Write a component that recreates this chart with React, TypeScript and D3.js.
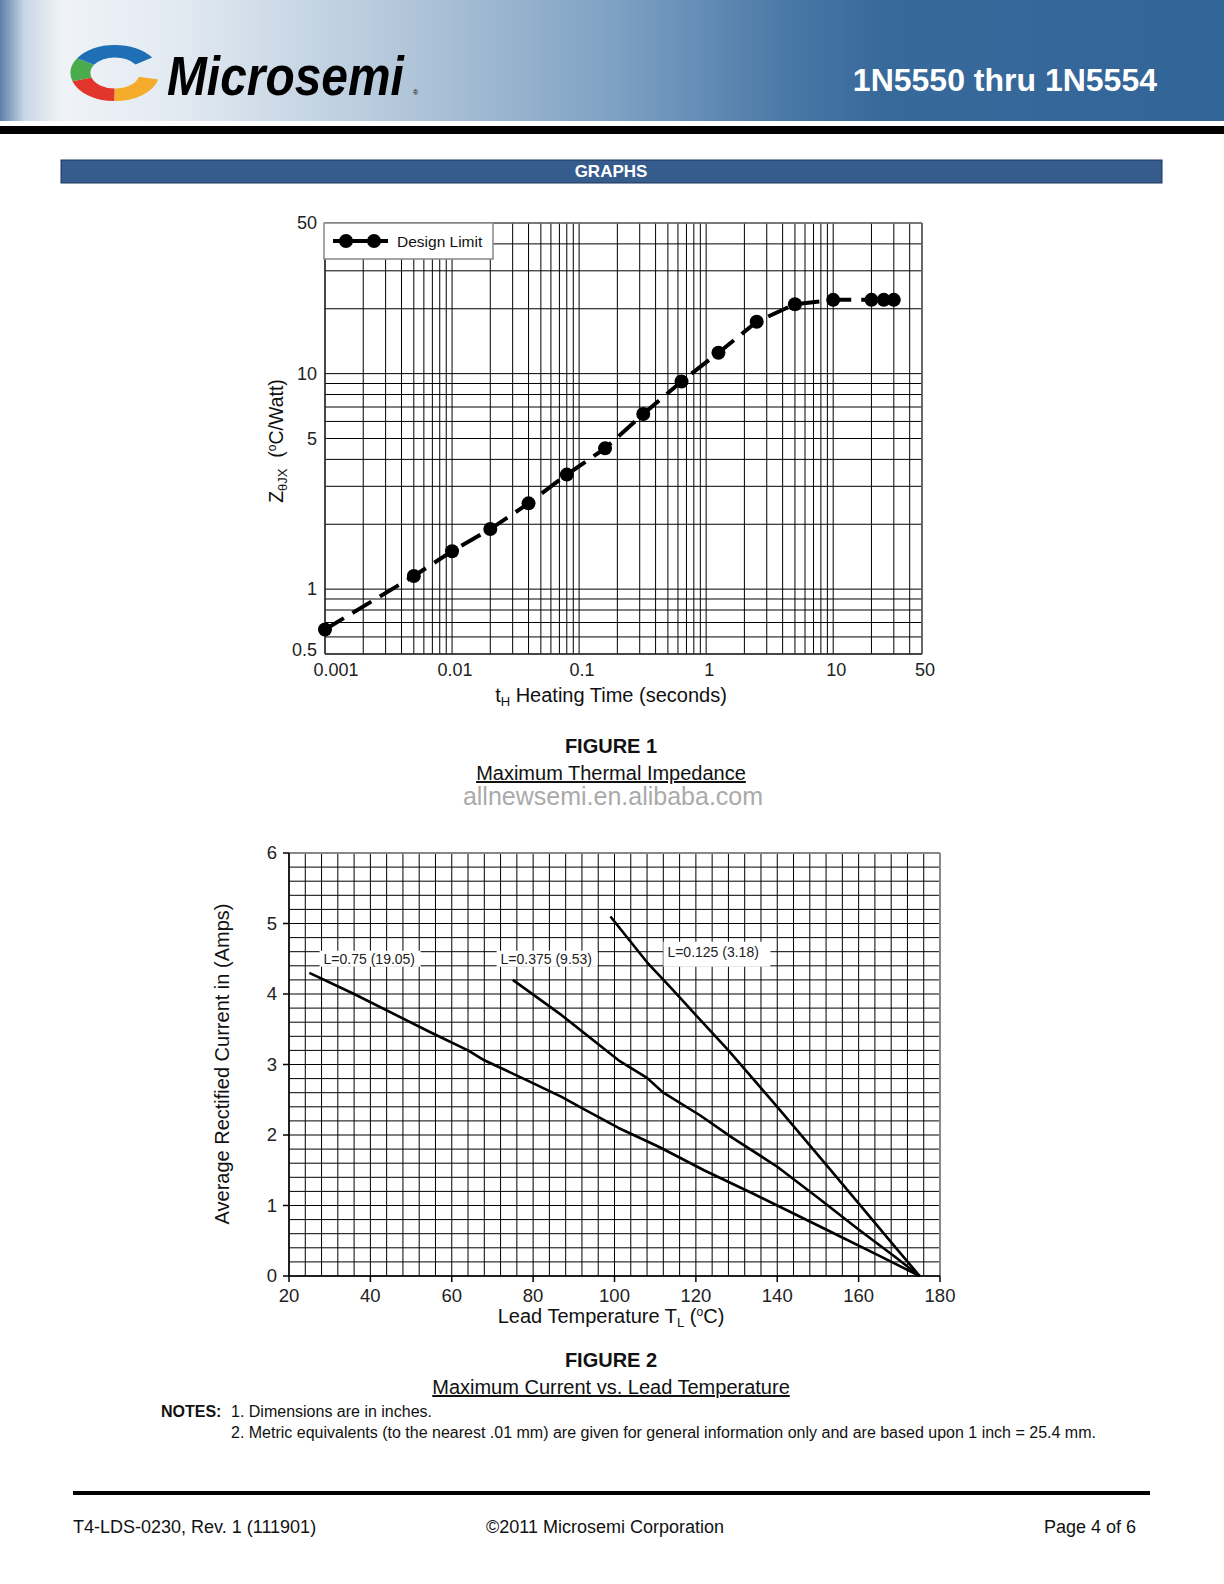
import * as d3 from "d3";

const FONT = '"Liberation Sans", Arial, Helvetica, sans-serif';

// Figure 1: maximum thermal impedance (log-log)
const heatTime = [0.001, 0.005, 0.01, 0.02, 0.04, 0.08, 0.16, 0.32, 0.64, 1.25, 2.5, 5, 10, 20, 25, 30];
const impedance = [0.65, 1.15, 1.5, 1.9, 2.5, 3.4, 4.5, 6.5, 9.2, 12.5, 17.4, 21, 22, 22, 22, 22];
const fig1XTicks = [0.001, 0.01, 0.1, 1, 10, 50];
const fig1XLabels = ["0.001", "0.01", "0.1", "1", "10", "50"];
const fig1YTicks = [0.5, 1, 5, 10, 50];
const fig1YLabels = ["0.5", "1", "5", "10", "50"];

// Figure 2: maximum current vs lead temperature
const tempL075 = [25, 36, 55, 64, 68, 78, 87, 92, 101, 111, 122, 134, 152, 165, 175];
const currL075 = [4.3, 4.0, 3.45, 3.2, 3.06, 2.79, 2.54, 2.38, 2.1, 1.83, 1.5, 1.17, 0.66, 0.29, 0];
const tempL0375 = [75, 87, 101, 108, 112, 121, 129, 140, 150, 160, 169, 175];
const currL0375 = [4.2, 3.7, 3.06, 2.81, 2.6, 2.28, 1.96, 1.55, 1.11, 0.66, 0.27, 0];
const tempL0125 = [99, 108, 114, 120, 128, 140, 152, 160, 169, 175];
const currL0125 = [5.1, 4.45, 4.08, 3.7, 3.2, 2.4, 1.58, 1.03, 0.41, 0];
const curveLabels = ["L=0.75 (19.05)", "L=0.375 (9.53)", "L=0.125 (3.18)"];
const labelTemp = [28.5, 72, 113];
const labelCurr = [4.5, 4.5, 4.6];
const fig2XTicks = [20, 40, 60, 80, 100, 120, 140, 160, 180];
const fig2YTicks = [0, 1, 2, 3, 4, 5, 6];

const zip = (a: number[], b: number[]) => a.map((v, i) => [v, b[i]] as [number, number]);

const Header = () => {
  const ring = d3.arc<any>().innerRadius(21).outerRadius(38);
  const segs = [
    { a0: 0.62, a1: 1.05, c: "#f5ac2a" },
    { a0: 1.05, a1: 1.45, c: "#e2352b" },
    { a0: 1.45, a1: 1.72, c: "#4aab4c" },
    { a0: 1.72, a1: 2.36, c: "#1f6fb6" },
  ];
  return (
    <g>
      <defs>
        <linearGradient id="banner" x1="0" x2="1" y1="0" y2="0">
          <stop offset="0" stopColor="#5c80a8" />
          <stop offset="0.02" stopColor="#c9d7e5" />
          <stop offset="0.05" stopColor="#eff3f7" />
          <stop offset="0.15" stopColor="#e1e9f1" />
          <stop offset="0.33" stopColor="#b2c6da" />
          <stop offset="0.5" stopColor="#7fa2c4" />
          <stop offset="0.64" stopColor="#4b79a7" />
          <stop offset="0.72" stopColor="#38699b" />
          <stop offset="1" stopColor="#326598" />
        </linearGradient>
      </defs>
      <rect x={0} y={0} width={1224} height={121} fill="url(#banner)" />
      <rect x={0} y={126} width={1224} height={8} fill="#000" />
      <g transform="translate(115,73) scale(1.17,0.74) rotate(-8)">
        {segs.map((s, i) => (
          <path
            key={i}
            d={ring({ startAngle: s.a0 * Math.PI, endAngle: s.a1 * Math.PI }) || ""}
            fill={s.c}
          />
        ))}
      </g>
      <text
        transform="translate(167,95) scale(0.855,1)"
        fontFamily={FONT}
        fontWeight="bold"
        fontStyle="italic"
        fontSize={56}
        fill="#000"
      >
        Microsemi
      </text>
      <text x={413} y={95} fontFamily={FONT} fontSize={7} fill="#000">
        ®
      </text>
      <text
        x={1157}
        y={91}
        textAnchor="end"
        fontFamily={FONT}
        fontWeight="bold"
        fontSize={32}
        fill="#fff"
      >
        1N5550 thru 1N5554
      </text>
      <rect x={61} y={160} width={1101} height={23} fill="#365c8e" stroke="#1d3558" strokeWidth={1} />
      <text x={611} y={177} textAnchor="middle" fontFamily={FONT} fontWeight="bold" fontSize={17} fill="#fff">
        GRAPHS
      </text>
    </g>
  );
};

const Figure1 = () => {
  const x = d3.scaleLog().domain([0.001, 50]).range([325, 922]);
  const y = d3.scaleLog().domain([0.5, 50]).range([654, 223]);
  const vGrid: number[] = [];
  [0.001, 0.01, 0.1, 1, 10].forEach((d) => {
    for (let k = 1; k <= 9; k++) if (k * d <= 50.0001) vGrid.push(k * d);
  });
  vGrid.push(50);
  const hGrid: number[] = [];
  [0.1, 1, 10].forEach((d) => {
    for (let k = 1; k <= 9; k++) if (k * d >= 0.4999 && k * d <= 50.0001) hGrid.push(k * d);
  });
  const pts = zip(heatTime, impedance);
  const line = d3
    .line<[number, number]>()
    .x((d) => x(d[0]))
    .y((d) => y(d[1]));
  const [x0, x1] = x.range();
  const [yb, yt] = y.range();
  return (
    <g fontFamily={FONT}>
      {vGrid.map((v, i) => (
        <line key={"v" + i} x1={x(v)} x2={x(v)} y1={yt} y2={yb} stroke="#000" strokeWidth={1} />
      ))}
      {hGrid.map((v, i) => (
        <line key={"h" + i} x1={x0} x2={x1} y1={y(v)} y2={y(v)} stroke="#000" strokeWidth={1} />
      ))}
      <line x1={x0} x2={x1} y1={yt} y2={yt} stroke="#777" strokeWidth={1.5} />
      <line x1={x1} x2={x1} y1={yt} y2={yb} stroke="#777" strokeWidth={1.5} />
      <line x1={x0} x2={x0} y1={yt} y2={yb} stroke="#333" strokeWidth={1.5} />
      <line x1={x0} x2={x1} y1={yb} y2={yb} stroke="#333" strokeWidth={1.5} />
      <path d={line(pts) || ""} fill="none" stroke="#000" strokeWidth={4} strokeDasharray="22 10" />
      {pts.map((d, i) => (
        <circle key={"p" + i} cx={x(d[0])} cy={y(d[1])} r={7} fill="#000" />
      ))}
      {/* legend */}
      <rect x={324} y={223} width={169} height={36} fill="#fff" stroke="#888" strokeWidth={1.5} />
      <line x1={333} x2={388} y1={241} y2={241} stroke="#000" strokeWidth={4} />
      <circle cx={346} cy={241} r={7} fill="#000" />
      <circle cx={374} cy={241} r={7} fill="#000" />
      <text x={397} y={247} fontSize={15.5} fill="#111">
        Design Limit
      </text>
      {fig1XTicks.map((v, i) => (
        <text key={"xl" + i} x={x(v) + (i === 0 ? 11 : 3)} y={676} textAnchor="middle" fontSize={18} fill="#222">
          {fig1XLabels[i]}
        </text>
      ))}
      {fig1YTicks.map((v, i) => (
        <text key={"yl" + i} x={317} y={y(v) + (i === 0 ? 2 : 6)} textAnchor="end" fontSize={18} fill="#222">
          {fig1YLabels[i]}
        </text>
      ))}
      <text x={611} y={702} textAnchor="middle" fontSize={20} fill="#111">
        t<tspan fontSize={13} dy={4}>H</tspan>
        <tspan dy={-4}> Heating Time (seconds)</tspan>
      </text>
      <text transform="translate(283,441) rotate(-90)" textAnchor="middle" fontSize={19.5} fill="#111">
        Z<tspan fontSize={13} dy={4}>θJX</tspan>
        <tspan dy={-4}>{"\u00a0\u00a0("}</tspan>
        <tspan fontSize={12} dy={-7}>o</tspan>
        <tspan dy={7}>C/Watt)</tspan>
      </text>
    </g>
  );
};

const Figure2 = () => {
  const x = d3.scaleLinear().domain([20, 180]).range([289, 940]);
  const y = d3.scaleLinear().domain([0, 6]).range([1276, 853]);
  const vGrid = d3.range(20, 181, 4);
  const hGrid = d3.range(0, 31).map((i) => i * 0.2);
  const line = d3
    .line<[number, number]>()
    .x((d) => x(d[0]))
    .y((d) => y(d[1]));
  const curves = [zip(tempL075, currL075), zip(tempL0375, currL0375), zip(tempL0125, currL0125)];
  const [x0, x1] = x.range();
  const [yb, yt] = y.range();
  return (
    <g fontFamily={FONT}>
      {vGrid.map((v, i) => (
        <line key={"v" + i} x1={x(v)} x2={x(v)} y1={yt} y2={yb} stroke="#000" strokeWidth={1} />
      ))}
      {hGrid.map((v, i) => (
        <line key={"h" + i} x1={x0} x2={x1} y1={y(v)} y2={y(v)} stroke="#000" strokeWidth={1} />
      ))}
      <line x1={x0} x2={x1} y1={yt} y2={yt} stroke="#888" strokeWidth={2} />
      <line x1={x1} x2={x1} y1={yt} y2={yb} stroke="#888" strokeWidth={2} />
      <line x1={x0} x2={x0} y1={yt} y2={yb} stroke="#000" strokeWidth={1.5} />
      <line x1={x0} x2={x1} y1={yb} y2={yb} stroke="#000" strokeWidth={1.5} />
      {fig2YTicks.map((v) => (
        <line key={"yt" + v} x1={x0 - 6} x2={x0} y1={y(v)} y2={y(v)} stroke="#000" strokeWidth={1.5} />
      ))}
      {fig2XTicks.map((v) => (
        <line key={"xt" + v} x1={x(v)} x2={x(v)} y1={yb} y2={yb + 6} stroke="#000" strokeWidth={1.5} />
      ))}
      {curves.map((c, i) => (
        <path key={"c" + i} d={line(c) || ""} fill="none" stroke="#000" strokeWidth={2.6} strokeLinejoin="round" />
      ))}
      {curveLabels.map((t, i) => {
        const lx = x(labelTemp[i]);
        const ly = y(labelCurr[i]);
        const w = i === 2 ? 107 : 101;
        return (
          <g key={"lab" + i}>
            <rect x={lx - 4} y={i === 2 ? ly - 10 : ly - 8} width={w} height={i === 2 ? 25 : 16} fill="#fff" />
            <text x={lx} y={ly + 5} fontSize={14} fill="#222">
              {t}
            </text>
          </g>
        );
      })}
      {fig2XTicks.map((v) => (
        <text key={"xl" + v} x={x(v)} y={1302} textAnchor="middle" fontSize={18.5} fill="#222">
          {v}
        </text>
      ))}
      {fig2YTicks.map((v) => (
        <text key={"yl" + v} x={277} y={y(v) + 6} textAnchor="end" fontSize={18.5} fill="#222">
          {v}
        </text>
      ))}
      <text x={611} y={1323} textAnchor="middle" fontSize={20} fill="#111">
        Lead Temperature T<tspan fontSize={13} dy={4}>L</tspan>
        <tspan dy={-4}> (</tspan>
        <tspan fontSize={12} dy={-7}>o</tspan>
        <tspan dy={7}>C)</tspan>
      </text>
      <text transform="translate(229,1064) rotate(-90)" textAnchor="middle" fontSize={20} fill="#111">
        Average Rectified Current in (Amps)
      </text>
    </g>
  );
};

const App = () => {
  return (
    <div style={{ position: "absolute", left: 0, top: 0 }}>
      <svg width={1224} height={1584} style={{ display: "block", background: "#fff" }}>
        <rect width={1224} height={1584} fill="#fff" />
        <Header />
        <Figure1 />
        <g fontFamily={FONT} fill="#111">
          <text x={611} y={753} textAnchor="middle" fontSize={20} fontWeight="bold">
            FIGURE 1
          </text>
          <text x={611} y={780} textAnchor="middle" fontSize={20} textDecoration="underline">
            Maximum Thermal Impedance
          </text>
          <text x={613} y={805} textAnchor="middle" fontSize={25} fill="#aaa">
            allnewsemi.en.alibaba.com
          </text>
        </g>
        <Figure2 />
        <g fontFamily={FONT} fill="#111">
          <text x={611} y={1367} textAnchor="middle" fontSize={20} fontWeight="bold">
            FIGURE 2
          </text>
          <text x={611} y={1394} textAnchor="middle" fontSize={20} textDecoration="underline">
            Maximum Current vs. Lead Temperature
          </text>
          <text x={161} y={1417} fontSize={16} fontWeight="bold">
            NOTES:
          </text>
          <text x={231} y={1417} fontSize={16}>
            1.  Dimensions are in inches.
          </text>
          <text x={231} y={1438} fontSize={16}>
            2.  Metric equivalents (to the nearest .01 mm) are given for general information only and are based upon 1 inch = 25.4 mm.
          </text>
          <rect x={73} y={1491} width={1077} height={4} fill="#000" />
          <text x={73} y={1533} fontSize={18}>
            T4-LDS-0230, Rev. 1 (111901)
          </text>
          <text x={605} y={1533} textAnchor="middle" fontSize={18}>
            ©2011 Microsemi Corporation
          </text>
          <text x={1136} y={1533} textAnchor="end" fontSize={18}>
            Page 4 of 6
          </text>
        </g>
      </svg>
    </div>
  );
};

export default App;
